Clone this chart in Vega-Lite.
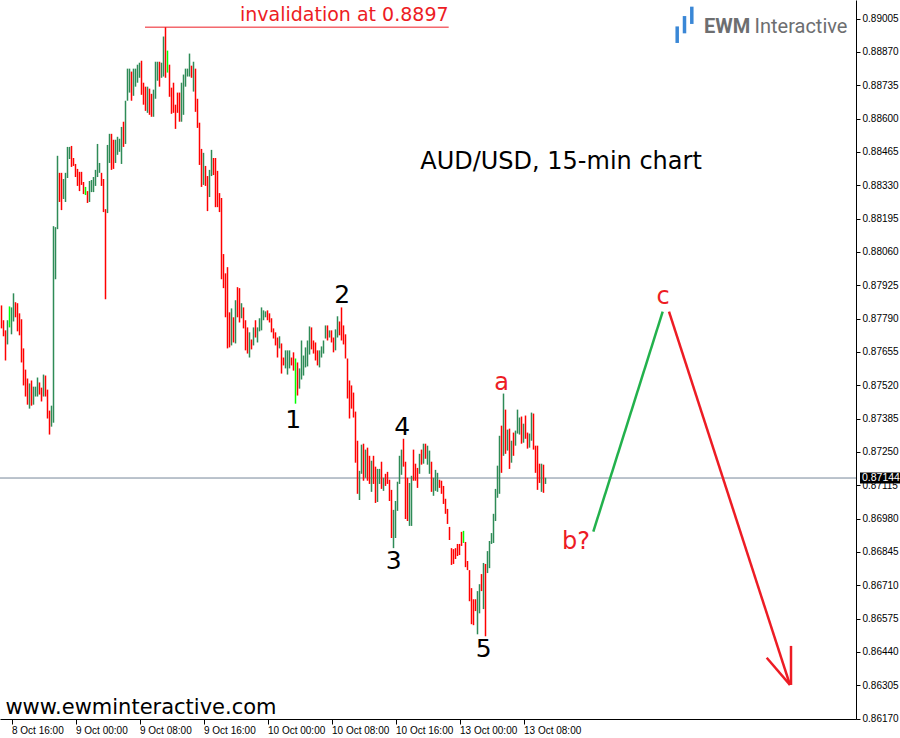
{
  "$schema": "https://vega.github.io/schema/vega-lite/v6.json",
  "width": 856,
  "height": 719,
  "autosize": {"type": "none"},
  "padding": {"left": 0, "top": 0, "right": 44, "bottom": 19},
  "background": "white",
  "config": {"view": {"stroke": null}, "axis": {"grid": false}},
  "datasets": {
    "bars": [
      {"k":0,"p":0.87843,"p2":0.8775,"dir":"dn"},{"k":1,"p":0.87783,"p2":0.87718,"dir":"dn"},{"k":2,"p":0.87742,"p2":0.8762,"dir":"dn"},{"k":3,"p":0.87783,"p2":0.87685,"dir":"up"},{"k":4,"p":0.87839,"p2":0.87754,"dir":"flat"},{"k":5,"p":0.87835,"p2":0.87726,"dir":"up"},{"k":6,"p":0.87892,"p2":0.87778,"dir":"up"},{"k":7,"p":0.87856,"p2":0.87795,"dir":"dn"},{"k":8,"p":0.87852,"p2":0.87738,"dir":"dn"},{"k":9,"p":0.87811,"p2":0.87722,"dir":"dn"},
      {"k":10,"p":0.87787,"p2":0.87612,"dir":"dn"},{"k":11,"p":0.87669,"p2":0.87519,"dir":"dn"},{"k":12,"p":0.87583,"p2":0.87474,"dir":"dn"},{"k":13,"p":0.87547,"p2":0.87441,"dir":"dn"},{"k":14,"p":0.87527,"p2":0.87425,"dir":"up"},{"k":15,"p":0.87539,"p2":0.87437,"dir":"dn"},{"k":16,"p":0.87514,"p2":0.87441,"dir":"up"},{"k":17,"p":0.87514,"p2":0.87474,"dir":"up"},{"k":18,"p":0.87551,"p2":0.87474,"dir":"up"},{"k":19,"p":0.87531,"p2":0.87482,"dir":"dn"},
      {"k":20,"p":0.8751,"p2":0.87454,"dir":"dn"},{"k":21,"p":0.87563,"p2":0.87474,"dir":"up"},{"k":22,"p":0.87559,"p2":0.87474,"dir":"dn"},{"k":23,"p":0.87502,"p2":0.87385,"dir":"dn"},{"k":24,"p":0.87417,"p2":0.8732,"dir":"dn"},{"k":25,"p":0.87437,"p2":0.87352,"dir":"up"},{"k":26,"p":0.88164,"p2":0.87368,"dir":"up"},{"k":27,"p":0.8816,"p2":0.87949,"dir":"up"},{"k":28,"p":0.88449,"p2":0.88152,"dir":"up"},{"k":29,"p":0.8838,"p2":0.88262,"dir":"dn"},
      {"k":30,"p":0.8838,"p2":0.88229,"dir":"dn"},{"k":31,"p":0.88355,"p2":0.88274,"dir":"up"},{"k":32,"p":0.8838,"p2":0.88262,"dir":"up"},{"k":33,"p":0.88485,"p2":0.88359,"dir":"up"},{"k":34,"p":0.88485,"p2":0.88436,"dir":"up"},{"k":35,"p":0.88489,"p2":0.88404,"dir":"dn"},{"k":36,"p":0.8844,"p2":0.88408,"dir":"dn"},{"k":37,"p":0.88416,"p2":0.88363,"dir":"dn"},{"k":38,"p":0.88396,"p2":0.88327,"dir":"dn"},{"k":39,"p":0.88384,"p2":0.88306,"dir":"dn"},
      {"k":40,"p":0.88384,"p2":0.88331,"dir":"dn"},{"k":41,"p":0.88343,"p2":0.88294,"dir":"dn"},{"k":42,"p":0.88323,"p2":0.8829,"dir":"flat"},{"k":43,"p":0.88306,"p2":0.88258,"dir":"dn"},{"k":44,"p":0.88347,"p2":0.88262,"dir":"up"},{"k":45,"p":0.88351,"p2":0.88302,"dir":"up"},{"k":46,"p":0.88363,"p2":0.88302,"dir":"up"},{"k":47,"p":0.88392,"p2":0.88327,"dir":"up"},{"k":48,"p":0.88497,"p2":0.88363,"dir":"up"},{"k":49,"p":0.8842,"p2":0.8838,"dir":"up"},
      {"k":50,"p":0.8838,"p2":0.88327,"dir":"dn"},{"k":51,"p":0.88355,"p2":0.88221,"dir":"dn"},{"k":52,"p":0.88233,"p2":0.87868,"dir":"dn"},{"k":53,"p":0.88493,"p2":0.88217,"dir":"up"},{"k":54,"p":0.88538,"p2":0.8842,"dir":"up"},{"k":55,"p":0.88538,"p2":0.88392,"dir":"dn"},{"k":56,"p":0.88514,"p2":0.88396,"dir":"dn"},{"k":57,"p":0.88514,"p2":0.8842,"dir":"up"},{"k":58,"p":0.88526,"p2":0.88453,"dir":"up"},{"k":59,"p":0.88518,"p2":0.88465,"dir":"up"},
      {"k":60,"p":0.88566,"p2":0.88416,"dir":"up"},{"k":61,"p":0.88587,"p2":0.88485,"dir":"dn"},{"k":62,"p":0.88672,"p2":0.88497,"dir":"up"},{"k":63,"p":0.88802,"p2":0.88672,"dir":"up"},{"k":64,"p":0.88802,"p2":0.88705,"dir":"up"},{"k":65,"p":0.8879,"p2":0.88672,"dir":"dn"},{"k":66,"p":0.88802,"p2":0.88692,"dir":"up"},{"k":67,"p":0.88802,"p2":0.88729,"dir":"up"},{"k":68,"p":0.88818,"p2":0.88745,"dir":"up"},{"k":69,"p":0.88826,"p2":0.88765,"dir":"up"},
      {"k":70,"p":0.88834,"p2":0.88696,"dir":"dn"},{"k":71,"p":0.88745,"p2":0.88656,"dir":"dn"},{"k":72,"p":0.88729,"p2":0.88631,"dir":"dn"},{"k":73,"p":0.88729,"p2":0.88623,"dir":"up"},{"k":74,"p":0.88721,"p2":0.88615,"dir":"dn"},{"k":75,"p":0.887,"p2":0.88607,"dir":"dn"},{"k":76,"p":0.88717,"p2":0.88607,"dir":"up"},{"k":77,"p":0.8883,"p2":0.8868,"dir":"up"},{"k":78,"p":0.8883,"p2":0.88753,"dir":"up"},{"k":79,"p":0.8883,"p2":0.88729,"dir":"dn"},
      {"k":80,"p":0.88826,"p2":0.88765,"dir":"up"},{"k":81,"p":0.88932,"p2":0.8877,"dir":"up"},{"k":82,"p":0.8897,"p2":0.88765,"dir":"dn"},{"k":83,"p":0.88875,"p2":0.88786,"dir":"flat"},{"k":84,"p":0.88818,"p2":0.88688,"dir":"dn"},{"k":85,"p":0.88725,"p2":0.88619,"dir":"dn"},{"k":86,"p":0.88745,"p2":0.88623,"dir":"dn"},{"k":87,"p":0.88656,"p2":0.88558,"dir":"dn"},{"k":88,"p":0.88705,"p2":0.88623,"dir":"dn"},{"k":89,"p":0.88705,"p2":0.88587,"dir":"dn"},
      {"k":90,"p":0.88745,"p2":0.88587,"dir":"up"},{"k":91,"p":0.88778,"p2":0.88615,"dir":"up"},{"k":92,"p":0.88802,"p2":0.88729,"dir":"up"},{"k":93,"p":0.88802,"p2":0.8877,"dir":"up"},{"k":94,"p":0.88863,"p2":0.8877,"dir":"up"},{"k":95,"p":0.88814,"p2":0.88765,"dir":"dn"},{"k":96,"p":0.8883,"p2":0.88709,"dir":"up"},{"k":97,"p":0.88802,"p2":0.88627,"dir":"dn"},{"k":98,"p":0.8868,"p2":0.88562,"dir":"dn"},{"k":99,"p":0.88583,"p2":0.88412,"dir":"dn"},
      {"k":100,"p":0.88477,"p2":0.88323,"dir":"dn"},{"k":101,"p":0.88461,"p2":0.88331,"dir":"up"},{"k":102,"p":0.88408,"p2":0.88327,"dir":"dn"},{"k":103,"p":0.88367,"p2":0.88225,"dir":"dn"},{"k":104,"p":0.88392,"p2":0.88282,"dir":"up"},{"k":105,"p":0.88473,"p2":0.88367,"dir":"up"},{"k":106,"p":0.8844,"p2":0.88371,"dir":"dn"},{"k":107,"p":0.8844,"p2":0.88241,"dir":"dn"},{"k":108,"p":0.88388,"p2":0.88241,"dir":"dn"},{"k":109,"p":0.88298,"p2":0.88221,"dir":"dn"},
      {"k":110,"p":0.88278,"p2":0.87949,"dir":"dn"},{"k":111,"p":0.88051,"p2":0.87913,"dir":"dn"},{"k":112,"p":0.87973,"p2":0.87795,"dir":"dn"},{"k":113,"p":0.87998,"p2":0.87669,"dir":"dn"},{"k":114,"p":0.87815,"p2":0.87673,"dir":"dn"},{"k":115,"p":0.87831,"p2":0.87681,"dir":"up"},{"k":116,"p":0.87795,"p2":0.87693,"dir":"dn"},{"k":117,"p":0.87864,"p2":0.87689,"dir":"up"},{"k":118,"p":0.87917,"p2":0.87795,"dir":"dn"},{"k":119,"p":0.87913,"p2":0.87774,"dir":"dn"},
      {"k":120,"p":0.87852,"p2":0.87791,"dir":"up"},{"k":121,"p":0.87835,"p2":0.8775,"dir":"dn"},{"k":122,"p":0.87783,"p2":0.87661,"dir":"dn"},{"k":123,"p":0.87754,"p2":0.87648,"dir":"dn"},{"k":124,"p":0.87734,"p2":0.87632,"dir":"up"},{"k":125,"p":0.87705,"p2":0.87665,"dir":"dn"},{"k":126,"p":0.87754,"p2":0.87681,"dir":"up"},{"k":127,"p":0.87783,"p2":0.87713,"dir":"dn"},{"k":128,"p":0.87754,"p2":0.87693,"dir":"up"},{"k":129,"p":0.87791,"p2":0.87738,"dir":"up"},
      {"k":130,"p":0.87835,"p2":0.87742,"dir":"up"},{"k":131,"p":0.87823,"p2":0.87783,"dir":"up"},{"k":132,"p":0.87819,"p2":0.87795,"dir":"up"},{"k":133,"p":0.87823,"p2":0.87783,"dir":"dn"},{"k":134,"p":0.87811,"p2":0.87774,"dir":"dn"},{"k":135,"p":0.87791,"p2":0.87734,"dir":"dn"},{"k":136,"p":0.8775,"p2":0.87709,"dir":"dn"},{"k":137,"p":0.87734,"p2":0.87681,"dir":"dn"},{"k":138,"p":0.87713,"p2":0.87632,"dir":"dn"},{"k":139,"p":0.87718,"p2":0.87669,"dir":"up"},
      {"k":140,"p":0.87689,"p2":0.87567,"dir":"dn"},{"k":141,"p":0.87632,"p2":0.876,"dir":"dn"},{"k":142,"p":0.87661,"p2":0.87588,"dir":"up"},{"k":143,"p":0.87661,"p2":0.87563,"dir":"up"},{"k":144,"p":0.87661,"p2":0.87588,"dir":"up"},{"k":145,"p":0.87632,"p2":0.876,"dir":"dn"},{"k":146,"p":0.87653,"p2":0.87579,"dir":"dn"},{"k":147,"p":0.87628,"p2":0.87445,"dir":"flat"},{"k":148,"p":0.87612,"p2":0.87478,"dir":"dn"},{"k":149,"p":0.87588,"p2":0.87506,"dir":"up"},
      {"k":150,"p":0.87701,"p2":0.87543,"dir":"up"},{"k":151,"p":0.8764,"p2":0.87559,"dir":"up"},{"k":152,"p":0.87673,"p2":0.87592,"dir":"up"},{"k":153,"p":0.87701,"p2":0.87596,"dir":"up"},{"k":154,"p":0.87758,"p2":0.87644,"dir":"up"},{"k":155,"p":0.87754,"p2":0.87665,"dir":"dn"},{"k":156,"p":0.87701,"p2":0.87648,"dir":"dn"},{"k":157,"p":0.87693,"p2":0.8762,"dir":"dn"},{"k":158,"p":0.87661,"p2":0.876,"dir":"dn"},{"k":159,"p":0.87661,"p2":0.87592,"dir":"up"},
      {"k":160,"p":0.87677,"p2":0.87632,"dir":"up"},{"k":161,"p":0.87701,"p2":0.87648,"dir":"up"},{"k":162,"p":0.87762,"p2":0.87709,"dir":"up"},{"k":163,"p":0.87762,"p2":0.87701,"dir":"dn"},{"k":164,"p":0.87742,"p2":0.87713,"dir":"up"},{"k":165,"p":0.87742,"p2":0.87693,"dir":"dn"},{"k":166,"p":0.87713,"p2":0.87653,"dir":"dn"},{"k":167,"p":0.87746,"p2":0.87661,"dir":"up"},{"k":168,"p":0.87799,"p2":0.87713,"dir":"up"},{"k":169,"p":0.87778,"p2":0.87722,"dir":"dn"},
      {"k":170,"p":0.87835,"p2":0.87701,"dir":"dn"},{"k":171,"p":0.87762,"p2":0.87685,"dir":"dn"},{"k":172,"p":0.87726,"p2":0.87628,"dir":"dn"},{"k":173,"p":0.87628,"p2":0.87466,"dir":"dn"},{"k":174,"p":0.87539,"p2":0.87385,"dir":"dn"},{"k":175,"p":0.87519,"p2":0.87425,"dir":"dn"},{"k":176,"p":0.8749,"p2":0.87389,"dir":"dn"},{"k":177,"p":0.87413,"p2":0.87206,"dir":"dn"},{"k":178,"p":0.87295,"p2":0.8708,"dir":"dn"},{"k":179,"p":0.87173,"p2":0.87055,"dir":"up"},
      {"k":180,"p":0.87279,"p2":0.87161,"dir":"up"},{"k":181,"p":0.87283,"p2":0.87133,"dir":"dn"},{"k":182,"p":0.87259,"p2":0.87145,"dir":"up"},{"k":183,"p":0.87267,"p2":0.87133,"dir":"dn"},{"k":184,"p":0.87234,"p2":0.8712,"dir":"dn"},{"k":185,"p":0.87214,"p2":0.87088,"dir":"up"},{"k":186,"p":0.87234,"p2":0.8712,"dir":"dn"},{"k":187,"p":0.8719,"p2":0.87043,"dir":"dn"},{"k":188,"p":0.87181,"p2":0.87047,"dir":"up"},{"k":189,"p":0.87181,"p2":0.8712,"dir":"up"},
      {"k":190,"p":0.8721,"p2":0.871,"dir":"dn"},{"k":191,"p":0.87145,"p2":0.87092,"dir":"up"},{"k":192,"p":0.87161,"p2":0.87112,"dir":"dn"},{"k":193,"p":0.87169,"p2":0.8712,"dir":"dn"},{"k":194,"p":0.87137,"p2":0.87051,"dir":"dn"},{"k":195,"p":0.87096,"p2":0.86901,"dir":"dn"},{"k":196,"p":0.87015,"p2":0.8686,"dir":"up"},{"k":197,"p":0.87051,"p2":0.86901,"dir":"up"},{"k":198,"p":0.87129,"p2":0.87011,"dir":"up"},{"k":199,"p":0.87234,"p2":0.8712,"dir":"up"},
      {"k":200,"p":0.87259,"p2":0.87157,"dir":"up"},{"k":201,"p":0.87303,"p2":0.8719,"dir":"dn"},{"k":202,"p":0.8721,"p2":0.86978,"dir":"dn"},{"k":203,"p":0.87145,"p2":0.8697,"dir":"dn"},{"k":204,"p":0.87124,"p2":0.8695,"dir":"up"},{"k":205,"p":0.87153,"p2":0.8695,"dir":"up"},{"k":206,"p":0.87259,"p2":0.87133,"dir":"dn"},{"k":207,"p":0.87202,"p2":0.87133,"dir":"dn"},{"k":208,"p":0.87185,"p2":0.87104,"dir":"dn"},{"k":209,"p":0.87242,"p2":0.87161,"dir":"up"},
      {"k":210,"p":0.87259,"p2":0.87198,"dir":"dn"},{"k":211,"p":0.87283,"p2":0.87202,"dir":"up"},{"k":212,"p":0.87283,"p2":0.87222,"dir":"dn"},{"k":213,"p":0.87275,"p2":0.87198,"dir":"up"},{"k":214,"p":0.87255,"p2":0.87161,"dir":"up"},{"k":215,"p":0.8721,"p2":0.87088,"dir":"dn"},{"k":216,"p":0.87145,"p2":0.87072,"dir":"up"},{"k":217,"p":0.87177,"p2":0.87092,"dir":"up"},{"k":218,"p":0.87165,"p2":0.87088,"dir":"up"},{"k":219,"p":0.87137,"p2":0.87104,"dir":"dn"},
      {"k":220,"p":0.87133,"p2":0.8708,"dir":"dn"},{"k":221,"p":0.87112,"p2":0.87039,"dir":"dn"},{"k":222,"p":0.8706,"p2":0.86999,"dir":"dn"},{"k":223,"p":0.87019,"p2":0.86958,"dir":"dn"},{"k":224,"p":0.86946,"p2":0.86893,"dir":"dn"},{"k":225,"p":0.8686,"p2":0.86792,"dir":"dn"},{"k":226,"p":0.86856,"p2":0.86796,"dir":"dn"},{"k":227,"p":0.8686,"p2":0.86816,"dir":"dn"},{"k":228,"p":0.86877,"p2":0.86828,"dir":"dn"},{"k":229,"p":0.86877,"p2":0.86832,"dir":"dn"},
      {"k":230,"p":0.86926,"p2":0.86869,"dir":"dn"},{"k":231,"p":0.8693,"p2":0.86881,"dir":"flat"},{"k":232,"p":0.86885,"p2":0.86783,"dir":"dn"},{"k":233,"p":0.86808,"p2":0.86771,"dir":"dn"},{"k":234,"p":0.86771,"p2":0.86645,"dir":"dn"},{"k":235,"p":0.86698,"p2":0.86552,"dir":"dn"},{"k":236,"p":0.86653,"p2":0.86548,"dir":"dn"},{"k":237,"p":0.86653,"p2":0.86605,"dir":"dn"},{"k":238,"p":0.86686,"p2":0.86511,"dir":"up"},{"k":239,"p":0.86714,"p2":0.86596,"dir":"up"},
      {"k":240,"p":0.86755,"p2":0.86686,"dir":"dn"},{"k":241,"p":0.868,"p2":0.86613,"dir":"up"},{"k":242,"p":0.86796,"p2":0.86503,"dir":"dn"},{"k":243,"p":0.86848,"p2":0.86759,"dir":"up"},{"k":244,"p":0.86889,"p2":0.86779,"dir":"up"},{"k":245,"p":0.86921,"p2":0.86877,"dir":"up"},{"k":246,"p":0.86999,"p2":0.86881,"dir":"up"},{"k":247,"p":0.871,"p2":0.8697,"dir":"up"},{"k":248,"p":0.87194,"p2":0.87064,"dir":"up"},{"k":249,"p":0.87315,"p2":0.8708,"dir":"up"},
      {"k":250,"p":0.87356,"p2":0.87165,"dir":"dn"},{"k":251,"p":0.87486,"p2":0.87234,"dir":"up"},{"k":252,"p":0.87421,"p2":0.87242,"dir":"dn"},{"k":253,"p":0.8734,"p2":0.87255,"dir":"up"},{"k":254,"p":0.87344,"p2":0.87181,"dir":"dn"},{"k":255,"p":0.87295,"p2":0.87206,"dir":"up"},{"k":256,"p":0.87328,"p2":0.87234,"dir":"dn"},{"k":257,"p":0.87336,"p2":0.87275,"dir":"up"},{"k":258,"p":0.87421,"p2":0.87324,"dir":"up"},{"k":259,"p":0.87389,"p2":0.8732,"dir":"up"},
      {"k":260,"p":0.87393,"p2":0.87283,"dir":"dn"},{"k":261,"p":0.87364,"p2":0.87287,"dir":"up"},{"k":262,"p":0.87397,"p2":0.87303,"dir":"dn"},{"k":263,"p":0.87328,"p2":0.87263,"dir":"dn"},{"k":264,"p":0.87324,"p2":0.87267,"dir":"up"},{"k":265,"p":0.87409,"p2":0.87295,"dir":"up"},{"k":266,"p":0.87405,"p2":0.87259,"dir":"dn"},{"k":267,"p":0.87275,"p2":0.87165,"dir":"dn"},{"k":268,"p":0.87275,"p2":0.87096,"dir":"dn"},{"k":269,"p":0.87202,"p2":0.87124,"dir":"dn"},
      {"k":270,"p":0.87202,"p2":0.87088,"dir":"up"},{"k":271,"p":0.87198,"p2":0.87084,"dir":"dn"},{"k":272,"p":0.87145,"p2":0.8712,"dir":"up"}
    ]
  },
  "encoding": {
    "x": {
      "field": "k", "type": "quantitative",
      "scale": {"domain": [-0.75, 427.25], "nice": false, "zero": false, "padding": 0},
      "axis": {
        "orient": "bottom", "title": null,
        "values": [5, 37, 69, 101, 133, 165, 197, 229, 261],
        "labelExpr": "['8 Oct 16:00','9 Oct 00:00','9 Oct 08:00','9 Oct 16:00','10 Oct 00:00','10 Oct 08:00','10 Oct 16:00','13 Oct 00:00','13 Oct 08:00'][round((datum.value-5)/32)]",
        "domainColor": "#000000", "domainWidth": 1, "tickColor": "#000000", "tickSize": 5, "tickWidth": 1,
        "labelAlign": "left", "labelDx": 2, "labelBaseline": "top", "labelPadding": 1,
        "labelFont": "Liberation Sans", "labelFontSize": 10, "labelColor": "#000000",
        "labelOverlap": false, "labelFlush": false, "labelBound": false, "grid": false
      }
    },
    "y": {
      "field": "p", "type": "quantitative",
      "scale": {"domain": [0.86168, 0.8908], "nice": false, "zero": false, "padding": 0},
      "axis": {
        "orient": "right", "title": null,
        "values": [0.8617, 0.86305, 0.8644, 0.86575, 0.8671, 0.86845, 0.8698, 0.87115, 0.8725, 0.87385, 0.8752, 0.87655, 0.8779, 0.87925, 0.8806, 0.88195, 0.8833, 0.88465, 0.886, 0.88735, 0.8887, 0.89005],
        "format": ".5f",
        "domainColor": "#000000", "domainWidth": 1, "tickColor": "#000000", "tickSize": 4, "tickWidth": 1,
        "labelPadding": 2, "labelFont": "Liberation Sans", "labelFontSize": 10, "labelColor": "#000000",
        "labelOverlap": false, "labelFlush": false, "labelBound": false, "grid": false
      }
    }
  },
  "layer": [
    {
      "data": {"values": [{"k": -0.75, "k2": 427.25, "p": 0.87144}]},
      "mark": {"type": "rule", "color": "#778899", "strokeWidth": 1},
      "encoding": {"x2": {"field": "k2"}}
    },
    {
      "data": {"name": "bars"},
      "transform": [{"filter": "datum.dir == 'up'"}],
      "mark": {"type": "bar", "width": 1.5, "color": "#2E8B57", "fill": "#2E8B57", "stroke": null},
      "encoding": {"y2": {"field": "p2"}}
    },
    {
      "data": {"name": "bars"},
      "transform": [{"filter": "datum.dir == 'dn'"}],
      "mark": {"type": "bar", "width": 1.5, "color": "#FF0000", "fill": "#FF0000", "stroke": null},
      "encoding": {"y2": {"field": "p2"}}
    },
    {
      "data": {"name": "bars"},
      "transform": [{"filter": "datum.dir == 'flat'"}],
      "mark": {"type": "bar", "width": 1.5, "color": "#00FF00", "fill": "#00FF00", "stroke": null},
      "encoding": {"y2": {"field": "p2"}}
    },
    {
      "data": {"values": [{"k": 71.75, "k2": 223.6, "p": 0.8897}]},
      "mark": {"type": "rule", "color": "#ED1C24", "strokeWidth": 1},
      "encoding": {"x2": {"field": "k2"}}
    },
    {
      "data": {"values": [{"k": 295.9, "p": 0.86927}, {"k": 330.6, "p": 0.87818}]},
      "mark": {"type": "line", "color": "#22B14C", "strokeWidth": 2.5},
      "encoding": {}
    },
    {
      "data": {"values": [
        {"seg": "main", "k": 333.75, "p": 0.87818}, {"seg": "main", "k": 394.25, "p": 0.86306},
        {"seg": "head1", "k": 394.75, "p": 0.86464}, {"seg": "head1", "k": 394.75, "p": 0.86306},
        {"seg": "head2", "k": 382.6, "p": 0.86416}, {"seg": "head2", "k": 394.25, "p": 0.86306}
      ]},
      "mark": {"type": "line", "color": "#ED1C24", "strokeWidth": 2.5},
      "encoding": {"detail": {"field": "seg", "type": "nominal"}}
    },
    {
      "data": {"values": [
        {"k": 145.9, "p": 0.87377, "t": "1"},
        {"k": 170.4, "p": 0.87887, "t": "2"},
        {"k": 196.1, "p": 0.86806, "t": "3"},
        {"k": 200.4, "p": 0.87351, "t": "4"},
        {"k": 241.1, "p": 0.86452, "t": "5"}
      ]},
      "mark": {"type": "text", "font": "DejaVu Sans", "fontSize": 25, "color": "#000000", "align": "center", "baseline": "middle"},
      "encoding": {"text": {"field": "t", "type": "nominal"}}
    },
    {
      "data": {"values": [
        {"k": 250.1, "p": 0.8753, "t": "a"},
        {"k": 287.25, "p": 0.86885, "t": "b?"},
        {"k": 330.75, "p": 0.87879, "t": "c"}
      ]},
      "mark": {"type": "text", "font": "DejaVu Sans", "fontSize": 24, "color": "#ED1C24", "align": "center", "baseline": "middle"},
      "encoding": {"text": {"field": "t", "type": "nominal"}}
    },
    {
      "data": {"values": [{"k": 171.4, "p": 0.89019, "t": "invalidation at 0.8897"}]},
      "mark": {"type": "text", "font": "DejaVu Sans", "fontSize": 19, "color": "#ED1C24", "align": "center", "baseline": "middle"},
      "encoding": {"text": {"field": "t", "type": "nominal"}}
    },
    {
      "data": {"values": [{"k": 279.75, "p": 0.88425, "t": "AUD/USD, 15-min chart"}]},
      "mark": {"type": "text", "font": "DejaVu Sans", "fontSize": 24, "color": "#000000", "align": "center", "baseline": "middle"},
      "encoding": {"text": {"field": "t", "type": "nominal"}}
    },
    {
      "data": {"values": [{"k": 69.75, "p": 0.86214, "t": "www.ewminteractive.com"}]},
      "mark": {"type": "text", "font": "DejaVu Sans", "fontSize": 21, "color": "#000000", "align": "center", "baseline": "middle"},
      "encoding": {"text": {"field": "t", "type": "nominal"}}
    },
    {
      "data": {"values": [
        {"k": 337.85, "p": 0.88973, "p2": 0.88906},
        {"k": 341.5, "p": 0.89015, "p2": 0.88945},
        {"k": 345.15, "p": 0.89053, "p2": 0.88983}
      ]},
      "mark": {"type": "rule", "color": "#3A87D6", "strokeWidth": 3.5},
      "encoding": {"y2": {"field": "p2"}}
    },
    {
      "data": {"values": [{"k": 351.25, "p": 0.88969, "t": "EWM"}]},
      "mark": {"type": "text", "font": "Roboto", "fontSize": 20, "fontWeight": "bold", "color": "#6D6E70", "align": "left", "baseline": "middle"},
      "encoding": {"text": {"field": "t", "type": "nominal"}}
    },
    {
      "data": {"values": [{"k": 376.5, "p": 0.88969, "t": "Interactive"}]},
      "mark": {"type": "text", "font": "Roboto", "fontSize": 20, "fontWeight": "normal", "color": "#6D6E70", "align": "left", "baseline": "middle"},
      "encoding": {"text": {"field": "t", "type": "nominal"}}
    },
    {
      "data": {"values": [{"k": 429.25, "k2": 449.25, "p": 0.87166, "p2": 0.87122}]},
      "mark": {"type": "rect", "color": "#000000", "clip": false},
      "encoding": {"x2": {"field": "k2"}, "y2": {"field": "p2"}}
    },
    {
      "data": {"values": [{"k": 430.25, "p": 0.87144, "t": "0.87144"}]},
      "mark": {"type": "text", "font": "Liberation Sans", "fontSize": 10.5, "color": "#FFFFFF", "align": "left", "baseline": "middle", "clip": false},
      "encoding": {"text": {"field": "t", "type": "nominal"}}
    }
  ]
}
